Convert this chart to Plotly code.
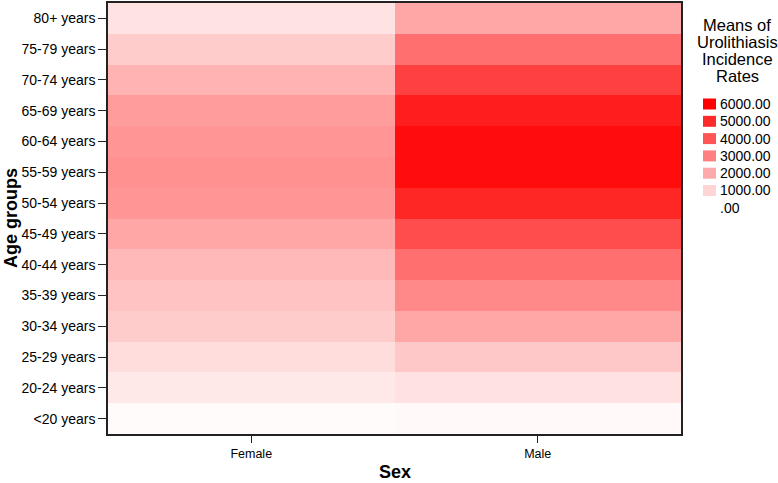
import plotly.graph_objects as go

sexes = ["Female", "Male"]
age_groups = ["<20 years", "20-24 years", "25-29 years", "30-34 years", "35-39 years",
              "40-44 years", "45-49 years", "50-54 years", "55-59 years", "60-64 years",
              "65-69 years", "70-74 years", "75-79 years", "80+ years"]
female_rates = [100, 550, 800, 1200, 1400, 1650, 2100, 2500, 2600, 2500, 2300, 1800, 1200, 650]
male_rates = [150, 700, 1300, 2100, 2800, 3400, 4200, 5100, 5700, 5700, 5300, 4500, 3400, 2100]
legend_title = ["Means of", "Urolithiasis", "Incidence", "Rates"]
legend_values = [6000, 5000, 4000, 3000, 2000, 1000, 0]
legend_labels = ["6000.00", "5000.00", "4000.00", "3000.00", "2000.00", "1000.00", ".00"]
ZMAX = 6000

# pixel layout of the plot area
W, H = 778, 483
L, R, T, B = 108, 681, 3, 434


def px_x(px):
    return (px - L) / (R - L)


def px_y(py):
    return (B - py) / (B - T)


def shade(v):
    g = round(255 * (1 - v / ZMAX))
    return f"rgb(255,{g},{g})"


z = [[f, m] for f, m in zip(female_rates, male_rates)]

fig = go.Figure()
fig.add_trace(go.Heatmap(
    x=sexes, y=age_groups, z=z,
    zmin=0, zmax=ZMAX,
    colorscale=[[0, "rgb(255,255,255)"], [1, "rgb(255,0,0)"]],
    showscale=False, xgap=0, ygap=0, hoverongaps=False,
))

shapes = []
annotations = []
# legend title, one line per annotation for tight line spacing
for i, line in enumerate(legend_title):
    annotations.append(dict(
        text=line, xref="paper", yref="paper", x=px_x(737), y=px_y(25 + i * 17),
        xanchor="center", yanchor="middle", showarrow=False, font=dict(size=16.5),
    ))
for i, (v, lab) in enumerate(zip(legend_values, legend_labels)):
    cy = 104 + i * 17.3
    if v > 0:
        shapes.append(dict(
            type="rect", xref="paper", yref="paper",
            x0=px_x(703), x1=px_x(716), y0=px_y(cy - 5.5), y1=px_y(cy + 5.5),
            fillcolor=shade(v), line=dict(width=0),
        ))
    annotations.append(dict(
        text=lab, xref="paper", yref="paper", x=px_x(718), y=px_y(cy),
        xanchor="left", yanchor="middle", showarrow=False, font=dict(size=14),
    ))
# axis titles
annotations.append(dict(
    text="<b>Sex</b>", xref="paper", yref="paper", x=px_x(395), y=px_y(472),
    xanchor="center", yanchor="middle", showarrow=False, font=dict(size=18),
))
annotations.append(dict(
    text="<b>Age groups</b>", xref="paper", yref="paper", x=px_x(11), y=px_y(218),
    xanchor="center", yanchor="middle", showarrow=False, font=dict(size=18),
    textangle=-90,
))

fig.update_layout(
    width=W, height=H,
    margin=dict(l=L, r=W - R, t=T, b=H - B, autoexpand=False),
    paper_bgcolor="white", plot_bgcolor="white",
    font=dict(family="Liberation Sans, Arial, sans-serif", size=12, color="black"),
    showlegend=False,
    shapes=shapes, annotations=annotations,
)
fig.update_xaxes(
    automargin=False,
    showline=True, linecolor="#222", linewidth=1.5, mirror=True,
    ticks="outside", ticklen=7, tickcolor="#222", showgrid=False, zeroline=False,
    tickfont=dict(size=12.5),
)
fig.update_yaxes(
    automargin=False,
    showline=True, linecolor="#222", linewidth=1.5, mirror=True,
    ticks="outside", ticklen=8, tickcolor="#222", showgrid=False, zeroline=False,
    tickfont=dict(size=14), categoryorder="array", categoryarray=age_groups,
)

fig.write_html(
    "out.html",
    config={"displayModeBar": False},
    post_script="document.body.style.margin='0';document.body.style.overflow='hidden';",
)
